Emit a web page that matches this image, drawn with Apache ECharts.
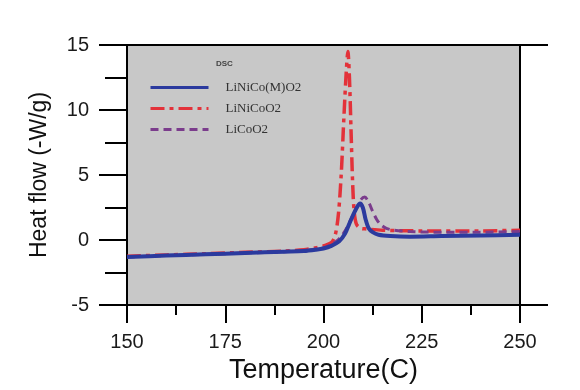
<!DOCTYPE html>
<html>
<head>
<meta charset="utf-8">
<script src="https://cdn.jsdelivr.net/npm/echarts@6/dist/echarts.min.js"></script>
<style>html,body{margin:0;padding:0;background:#fff;}#c{width:580px;height:390px;}</style>
</head>
<body>
<div id="c"></div>
<script>
const seriesNames = ['LiNiCo(M)O2', 'LiNiCoO2', 'LiCoO2'];
const xTicks = [150, 175, 200, 225, 250];
const yTicks = [-5, 0, 5, 10, 15];

const tempM = [150,160,170,180,190,195,198,200,202,204,205.5,206.5,207.5,208.5,209.3,210,210.7,211.5,212.5,214,217,222,230,240,250];
const heatM = [-1.3,-1.2,-1.1,-1.0,-0.9,-0.85,-0.75,-0.65,-0.45,-0.1,0.5,1.2,1.9,2.5,2.8,2.5,1.6,0.9,0.6,0.4,0.3,0.25,0.3,0.35,0.4];

const tempNC = [150,160,170,180,190,195,198,200,202,203,203.8,204.5,205.2,205.8,206.2,206.6,207,207.4,207.8,208.4,209.5,211,215,225,240,250];
const heatNC = [-1.25,-1.15,-1.05,-0.95,-0.85,-0.75,-0.6,-0.45,-0.2,0.4,2,5,9.5,13,14.5,12.5,8.5,4.5,2.2,1.2,0.9,0.85,0.75,0.7,0.7,0.75];

const tempC = [150,160,170,180,190,195,198,200,202,204,205.5,207,208.5,209.5,210.5,211.5,212.5,213.5,214.5,216,218,222,230,240,250];
const heatC = [-1.3,-1.2,-1.1,-1.0,-0.9,-0.8,-0.7,-0.6,-0.35,0.1,0.7,1.6,2.5,3.1,3.3,2.9,2.2,1.6,1.2,0.9,0.75,0.65,0.6,0.6,0.65];

function pairs(xs, ys){ return xs.map((x,i)=>[x, ys[i]]); }

const chart = echarts.init(document.getElementById('c'));
const axisFont = {fontFamily:'Liberation Sans', fontSize:20, color:'#1a1a1a'};
chart.setOption({
  animation:false,
  backgroundColor:'#fff',
  grid:{left:127, right:60, top:45, bottom:85, show:true, backgroundColor:'#c8c8c8', borderWidth:0},
  xAxis:{
    type:'value', min:xTicks[0], max:xTicks[xTicks.length-1], interval:25,
    name:'Temperature(C)', nameLocation:'middle', nameGap:46,
    nameTextStyle:{fontFamily:'Liberation Sans', fontSize:27, color:'#111'},
    axisLine:{show:true, onZero:false, lineStyle:{color:'#000', width:2}},
    axisTick:{show:true, length:18, lineStyle:{color:'#000', width:2}},
    minorTick:{show:true, splitNumber:2, length:10, lineStyle:{color:'#000', width:2}},
    axisLabel:{...axisFont, margin:27},
    splitLine:{show:false}
  },
  yAxis:{
    type:'value', min:yTicks[0], max:yTicks[yTicks.length-1], interval:5,
    name:'Heat flow (-W/g)', nameLocation:'middle', nameGap:76,
    nameTextStyle:{fontFamily:'Liberation Sans', fontSize:23, color:'#111'},
    axisLine:{show:true, onZero:false, lineStyle:{color:'#000', width:2}},
    axisTick:{show:true, length:28, lineStyle:{color:'#000', width:2}},
    minorTick:{show:true, splitNumber:2, length:22, lineStyle:{color:'#000', width:2}},
    axisLabel:{...axisFont, margin:38},
    splitLine:{show:false}
  },
  legend:{
    orient:'vertical', left:144, top:76, itemWidth:58, itemHeight:14, itemGap:8,
    data:seriesNames,
    itemStyle:{opacity:0},
    lineStyle:{width:3},
    textStyle:{fontFamily:'Liberation Serif', fontSize:13, color:'#333', padding:[0,0,0,12]}
  },
  graphic:[
    {type:'text', left:216, top:60, style:{text:'DSC', font:'bold 8px Liberation Sans', fill:'#444'}},
    {type:'line', shape:{x1:127, y1:45, x2:548, y2:45}, style:{stroke:'#000', lineWidth:2}},
    {type:'line', shape:{x1:520, y1:45, x2:520, y2:305}, style:{stroke:'#000', lineWidth:2}},
    {type:'line', shape:{x1:520, y1:305, x2:548, y2:305}, style:{stroke:'#000', lineWidth:2}}
  ],
  series:[
    {name:seriesNames[0], type:'line', data:pairs(tempM, heatM), showSymbol:false, symbol:'none', smooth:0.3, z:4,
     lineStyle:{color:'#2b3a9e', width:4}, itemStyle:{color:'#2b3a9e'}},
    {name:seriesNames[1], type:'line', data:pairs(tempNC, heatNC), showSymbol:false, symbol:'none', smooth:0.3, z:3,
     lineStyle:{color:'#e3323a', width:3.5, type:[14,5,4,5]}, itemStyle:{color:'#e3323a'}},
    {name:seriesNames[2], type:'line', data:pairs(tempC, heatC), showSymbol:false, symbol:'none', smooth:0.3, z:3,
     lineStyle:{color:'#7b3c8c', width:3, type:[8,5]}, itemStyle:{color:'#7b3c8c'}}
  ]
});
</script>
</body>
</html>
